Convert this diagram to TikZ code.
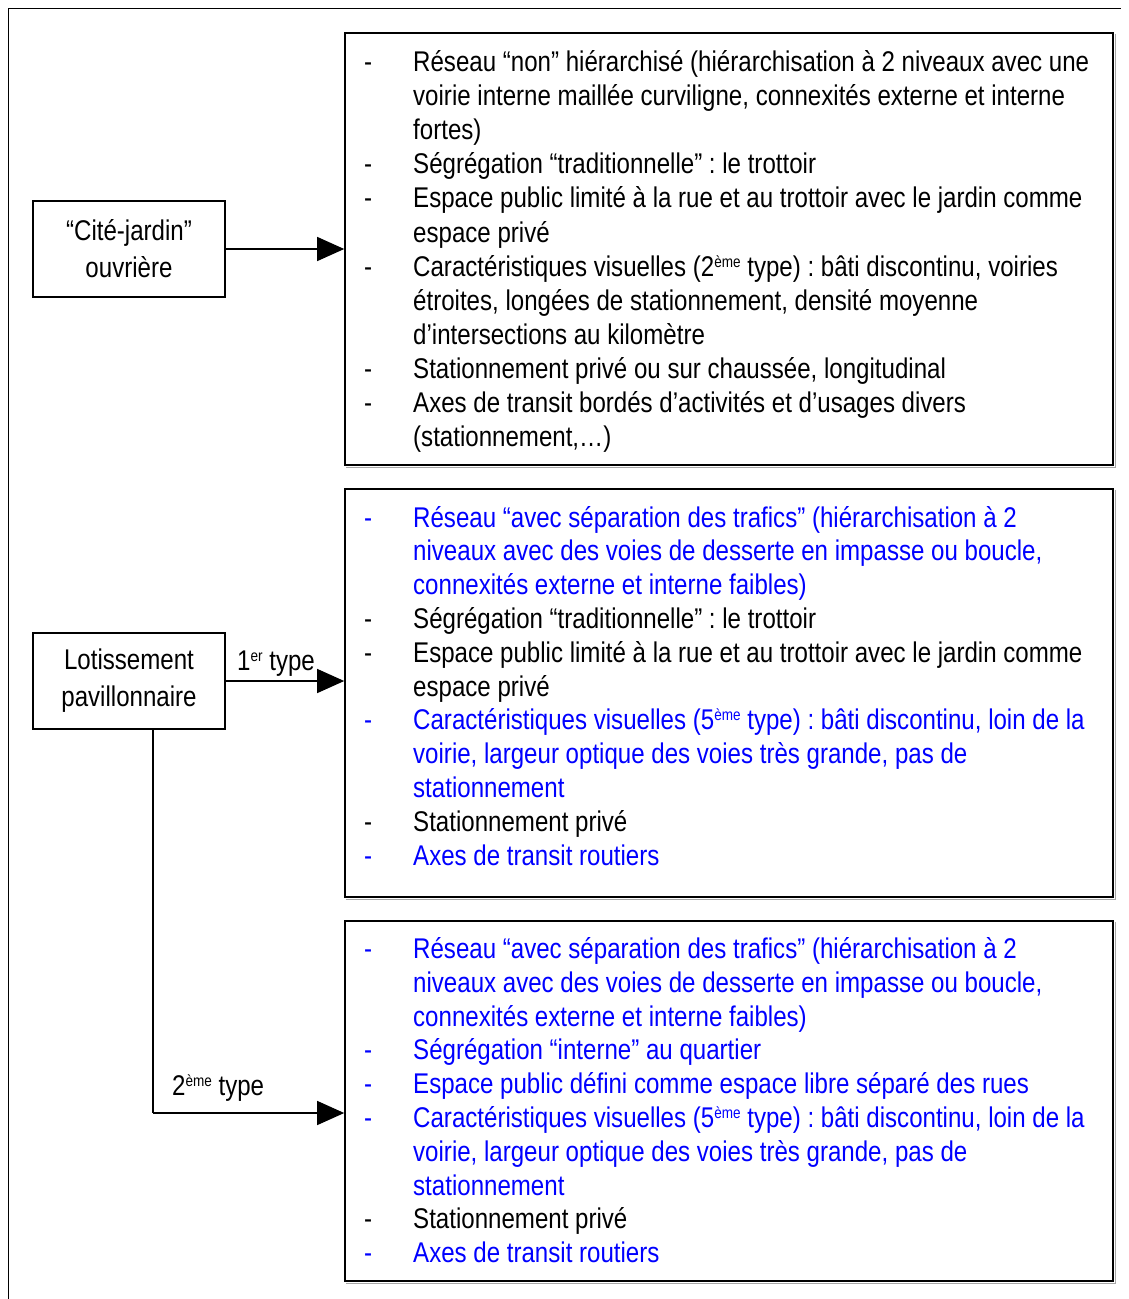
\documentclass[tikz,border=0pt]{standalone}
\usepackage{fontspec}
\setmainfont[FakeStretch=0.845]{Liberation Sans}
\usetikzlibrary{arrows.meta,calc}
\definecolor{tblue}{RGB}{0,0,255}
\frenchspacing
\newcommand\bitem[2]{\textcolor{#1}{-} & \textcolor{#1}{#2}\\}
\newcommand\bcont[2]{ & \textcolor{#1}{#2}\\}
\newcommand\supx[1]{\raisebox{9pt}{\fontsize{16}{16}\selectfont #1}}
\begin{document}
\begin{tikzpicture}[x=1pt,y=-1pt,
  rbox/.style={draw, line width=1.6pt, minimum width=768pt, inner sep=0pt},
  lbox/.style={draw, line width=1.6pt, minimum width=192pt, minimum height=96pt, inner sep=0pt, align=center, font=\fontsize{28.5}{37}\selectfont},
  shade/.style={draw=gray!70, line width=1pt},
  itemtext/.style={anchor=base west, inner sep=0pt},
  lbl/.style={anchor=base west, inner sep=0pt, font=\fontsize{28.5}{30}\selectfont},
  conn/.style={line width=1.2pt, -{Triangle[length=27pt,width=24pt]}},
  plain/.style={line width=1.2pt}]
\useasboundingbox (0,0) rectangle (1129,1299);
\draw[line width=1pt] (8,1299) -- (8,8) -- (1121,8);

% right boxes
\node[rbox, minimum height=432pt] (b1) at (729,249) {};
\node[rbox, minimum height=408pt] (b2) at (729,693) {};
\node[rbox, minimum height=360pt] (b3) at (729,1101) {};
\foreach \b in {b1,b2,b3}{
  \draw[shade] ([xshift=1.8pt,yshift=-1.8pt]\b.south west) -- ([xshift=1.8pt,yshift=-1.8pt]\b.south east) -- ([xshift=1.8pt,yshift=-1.8pt]\b.north east);
}

% left boxes
\node[lbox] (l1) at (129,249) {“Cité-jardin”\\ouvrière};
\node[lbox] (l2) at (129,681) {Lotissement\\pavillonnaire};

% texts
\node[itemtext] (t1) at (364,71.5) {\fontsize{28.5}{34.1}\selectfont
\begin{tabular}[t]{@{}p{49pt}@{}l@{}}
\bitem{black}{Réseau “non” hiérarchisé (hiérarchisation à 2 niveaux avec une}
\bcont{black}{voirie interne maillée curviligne, connexités externe et interne}
\bcont{black}{fortes)}
\bitem{black}{Ségrégation “traditionnelle” : le trottoir}
\bitem{black}{Espace public limité à la rue et au trottoir avec le jardin comme}
\bcont{black}{espace privé}
\bitem{black}{Caractéristiques visuelles (2\supx{ème} type) : bâti discontinu, voiries}
\bcont{black}{étroites, longées de stationnement, densité moyenne}
\bcont{black}{d’intersections au kilomètre}
\bitem{black}{Stationnement privé ou sur chaussée, longitudinal}
\bitem{black}{Axes de transit bordés d’activités et d’usages divers}
\bcont{black}{(stationnement,…)}
\end{tabular}};

\node[itemtext] (t2) at (364,527) {\fontsize{28.5}{33.8}\selectfont
\begin{tabular}[t]{@{}p{49pt}@{}l@{}}
\bitem{tblue}{Réseau “avec séparation des trafics” (hiérarchisation à 2}
\bcont{tblue}{niveaux avec des voies de desserte en impasse ou boucle,}
\bcont{tblue}{connexités externe et interne faibles)}
\bitem{black}{Ségrégation “traditionnelle” : le trottoir}
\bitem{black}{Espace public limité à la rue et au trottoir avec le jardin comme}
\bcont{black}{espace privé}
\bitem{tblue}{Caractéristiques visuelles (5\supx{ème} type) : bâti discontinu, loin de la}
\bcont{tblue}{voirie, largeur optique des voies très grande, pas de}
\bcont{tblue}{stationnement}
\bitem{black}{Stationnement privé}
\bitem{tblue}{Axes de transit routiers}
\end{tabular}};

\node[itemtext] (t3) at (364,958.5) {\fontsize{28.5}{33.8}\selectfont
\begin{tabular}[t]{@{}p{49pt}@{}l@{}}
\bitem{tblue}{Réseau “avec séparation des trafics” (hiérarchisation à 2}
\bcont{tblue}{niveaux avec des voies de desserte en impasse ou boucle,}
\bcont{tblue}{connexités externe et interne faibles)}
\bitem{tblue}{Ségrégation “interne” au quartier}
\bitem{tblue}{Espace public défini comme espace libre séparé des rues}
\bitem{tblue}{Caractéristiques visuelles (5\supx{ème} type) : bâti discontinu, loin de la}
\bcont{tblue}{voirie, largeur optique des voies très grande, pas de}
\bcont{tblue}{stationnement}
\bitem{black}{Stationnement privé}
\bitem{tblue}{Axes de transit routiers}
\end{tabular}};

% connectors
\draw[conn] (l1.east) -- (b1.west |- l1.east);
\draw[conn] (l2.east) -- (b2.west |- l2.east);
\coordinate (c2) at (153,1113);
\draw[plain] (l2.south -| c2) -- (c2);
\draw[conn] (c2) -- (b3.west |- c2);

% labels
\node[lbl] (lab1) at (237,670) {1\supx{er} type};
\node[lbl] (lab2) at (172,1095) {2\supx{ème} type};
\end{tikzpicture}
\end{document}
